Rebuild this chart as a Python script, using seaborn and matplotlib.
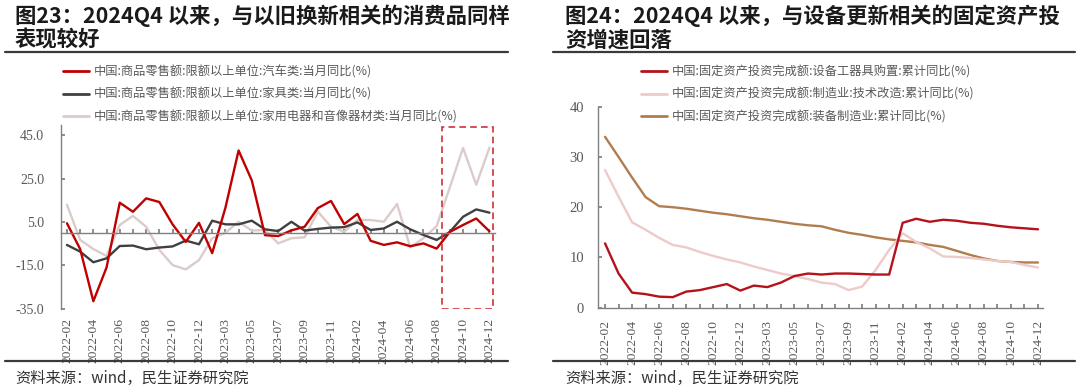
import matplotlib
matplotlib.use("Agg")
import matplotlib.pyplot as plt
from matplotlib.patches import Rectangle
from matplotlib.lines import Line2D
import seaborn as sns
import pandas as pd

# ---------------- data ----------------
months = ["2022-02", "2022-03", "2022-04", "2022-05", "2022-06", "2022-07", "2022-08", "2022-09",
          "2022-10", "2022-11", "2022-12",
          "2023-02", "2023-03", "2023-04", "2023-05", "2023-06", "2023-07", "2023-08", "2023-09",
          "2023-10", "2023-11", "2023-12",
          "2024-02", "2024-03", "2024-04", "2024-05", "2024-06", "2024-07", "2024-08", "2024-09",
          "2024-10", "2024-11", "2024-12"]

auto = [4.4, -7.5, -31.6, -16.0, 13.9, 9.7, 15.9, 14.2, 3.9, -4.2, 4.6,
        -9.4, 11.5, 38.0, 24.2, -1.1, -1.5, 1.1, 2.8, 11.4, 14.7, 4.0,
        8.7, -3.7, -5.6, -4.4, -6.2, -4.9, -7.3, 0.4, 3.6, 6.6, 0.7]
furniture = [-5.6, -8.7, -13.6, -11.8, -6.1, -5.9, -7.6, -6.8, -6.3, -3.6, -5.3,
             5.6, 3.9, 3.9, 5.6, 1.6, 0.8, 5.1, 1.0, 1.8, 2.4, 2.6,
             4.8, 1.3, 2.0, 5.1, 1.6, -1.0, -3.3, 0.4, 7.4, 10.8, 9.3]
appliance = [13.0, -3.3, -7.5, -10.7, 3.6, 7.8, 2.8, -7.9, -14.9, -16.9, -12.6,
             -2.5, 0.0, 5.1, 1.0, 1.3, -4.9, -2.5, -2.1, 9.8, 2.8, 0.5,
             5.9, 5.9, 5.1, 13.3, -6.7, -2.5, 3.1, 21.0, 39.2, 22.2, 39.3]

equip = [12.8, 6.8, 3.0, 2.7, 2.2, 2.1, 3.2, 3.5, 4.1, 4.7, 3.4,
         4.4, 4.1, 5.0, 6.3, 6.8, 6.6, 6.8, 6.8, 6.7, 6.6, 6.6,
         16.9, 17.7, 17.1, 17.5, 17.3, 16.9, 16.7, 16.3, 16.0, 15.8, 15.6]
techreno = [27.4, 22.1, 17.0, 15.5, 13.9, 12.5, 12.0, 11.1, 10.3, 9.6, 9.0,
            8.2, 7.5, 6.8, 6.3, 5.7, 5.0, 4.7, 3.5, 4.2, 7.5, 11.5,
            14.8, 13.1, 11.8, 10.2, 10.1, 9.9, 9.6, 9.3, 9.1, 8.5, 8.0]
equipmfg = [34.0, 30.0, 25.9, 22.0, 20.2, 20.0, 19.7, 19.3, 18.9, 18.6, 18.2,
            17.8, 17.5, 17.1, 16.7, 16.4, 16.2, 15.5, 14.9, 14.5, 14.0, 13.6,
            13.3, 13.0, 12.5, 12.1, 11.3, 10.5, 9.8, 9.3, 9.1, 9.0, 9.0]

left_names = ["中国:商品零售额:限额以上单位:汽车类:当月同比(%)",
              "中国:商品零售额:限额以上单位:家具类:当月同比(%)",
              "中国:商品零售额:限额以上单位:家用电器和音像器材类:当月同比(%)"]
right_names = ["中国:固定资产投资完成额:设备工器具购置:累计同比(%)",
               "中国:固定资产投资完成额:制造业:技术改造:累计同比(%)",
               "中国:固定资产投资完成额:装备制造业:累计同比(%)"]
left_colors = ["#c00000", "#404040", "#dccbcb"]
right_colors = ["#b5121b", "#eecaca", "#b27d4e"]

left_yticks = [-35, -15, 5, 25, 45]
right_yticks = [0, 10, 20, 30, 40]

title_left = "图23：2024Q4 以来，与以旧换新相关的消费品同样\n表现较好"
title_right = "图24：2024Q4 以来，与设备更新相关的固定资产投\n资增速回落"
source = "资料来源：wind，民生证券研究院"

# ---------------- style ----------------
sns.set_theme(style="white")
plt.rcParams["font.family"] = ["Noto Sans CJK SC", "DejaVu Sans"]
plt.rcParams["axes.unicode_minus"] = False

W, H = 1080, 390
fig = plt.figure(figsize=(W / 100, H / 100), dpi=100)

def fx(px):
    return px / W

def fy(py):
    return 1 - py / H

GREY = "#808080"
TXT = "#595959"
num_font = "Liberation Serif"

idx = list(range(len(months)))
df_left = pd.DataFrame({"i": idx * 3,
                        "v": auto + furniture + appliance,
                        "s": [left_names[0]] * 33 + [left_names[1]] * 33 + [left_names[2]] * 33})
df_right = pd.DataFrame({"i": idx * 3,
                         "v": equip + techreno + equipmfg,
                         "s": [right_names[0]] * 33 + [right_names[1]] * 33 + [right_names[2]] * 33})

# ---------------- left chart ----------------
axL = fig.add_axes([fx(61), fy(308.6), fx(495 - 61), (308.6 - 124.5) / H])
sns.lineplot(data=df_left, x="i", y="v", hue="s", hue_order=left_names[::-1],
             palette=dict(zip(left_names, left_colors)), linewidth=1.7, ax=axL, legend=False)
axL.set_xlim(-0.45, 32.42)
axL.set_ylim(-35, 50)
axL.set_xlabel("")
axL.set_ylabel("")
for s in ["top", "right"]:
    axL.spines[s].set_visible(False)
axL.spines["left"].set_color(GREY)
axL.spines["left"].set_linewidth(1.0)
axL.spines["bottom"].set_position(("data", 0))
axL.spines["bottom"].set_color(GREY)
axL.spines["bottom"].set_linewidth(1.0)
axL.set_xticks(idx)
axL.tick_params(axis="x", direction="in", length=3, color=GREY, labelbottom=False, bottom=True)
axL.set_yticks(left_yticks)
axL.set_yticklabels([f"{v:.1f}" for v in left_yticks], fontfamily=num_font, fontsize=10, color=TXT)
axL.tick_params(axis="y", direction="in", length=3, color=GREY, pad=12, left=True)
secL = axL.secondary_xaxis("bottom")
secL.set_xticks(idx[::2])
secL.set_xticklabels(months[::2], rotation=90, fontfamily=num_font, fontsize=9.7, color=TXT)
secL.tick_params(length=0, pad=7)
secL.spines["bottom"].set_visible(False)

axL.add_patch(Rectangle((28.4, -35), 32.3 - 28.4, 49 + 35, fill=False,
                        edgecolor="#d0313a", linestyle=(0, (4, 2.5)), linewidth=1.2, zorder=5))

handlesL = [Line2D([], [], color=c, linewidth=2) for c in left_colors]
fig.legend(handlesL, left_names, loc="upper left", bbox_to_anchor=(fx(63), fy(65)),
           frameon=False, borderpad=0, borderaxespad=0, handlelength=2.1, handletextpad=0.45,
           labelspacing=0.78, fontsize=8.8, labelcolor=TXT)

# ---------------- right chart ----------------
axR = fig.add_axes([fx(598), fy(307.7), fx(1043 - 598), (307.7 - 106.7) / H])
sns.lineplot(data=df_right, x="i", y="v", hue="s", hue_order=right_names[::-1],
             palette=dict(zip(right_names, right_colors)), linewidth=1.7, ax=axR, legend=False)
axR.set_xlim(-0.52, 32.37)
axR.set_ylim(0, 40)
axR.set_xlabel("")
axR.set_ylabel("")
for s in ["top", "right"]:
    axR.spines[s].set_visible(False)
for s in ["left", "bottom"]:
    axR.spines[s].set_color(GREY)
    axR.spines[s].set_linewidth(1.0)
axR.set_xticks(idx)
axR.set_xticklabels([m if i % 2 == 0 else "" for i, m in enumerate(months)], rotation=90,
                    fontfamily=num_font, fontsize=9.7, color=TXT)
axR.tick_params(axis="x", direction="in", length=3, color=GREY, pad=9, bottom=True)
axR.set_yticks(right_yticks)
axR.set_yticklabels([str(v) for v in right_yticks], fontfamily=num_font, fontsize=10.5, color=TXT)
axR.tick_params(axis="y", direction="in", length=3, color=GREY, pad=10, left=True)

handlesR = [Line2D([], [], color=c, linewidth=2) for c in right_colors]
fig.legend(handlesR, right_names, loc="upper left", bbox_to_anchor=(fx(641), fy(65)),
           frameon=False, borderpad=0, borderaxespad=0, handlelength=2.1, handletextpad=0.45,
           labelspacing=0.78, fontsize=8.8, labelcolor=TXT)

# ---------------- titles, rules, sources ----------------
for x0, t in [(15, title_left), (565, title_right)]:
    fig.text(fx(x0), fy(5), t, ha="left", va="top", fontsize=15.4, fontweight="bold",
             color="#1a1a1a", linespacing=1.1)
for x0, x1 in [(5, 508), (553, 1075)]:
    for yy in (52, 361):
        fig.add_artist(Line2D([fx(x0), fx(x1)], [fy(yy), fy(yy)], color="#3a3a3a", linewidth=1.6))
for x0 in (15, 565):
    fig.text(fx(x0), fy(378), source, ha="left", va="center", fontsize=11, color="#333333")

fig.savefig("out.png", dpi=100)
